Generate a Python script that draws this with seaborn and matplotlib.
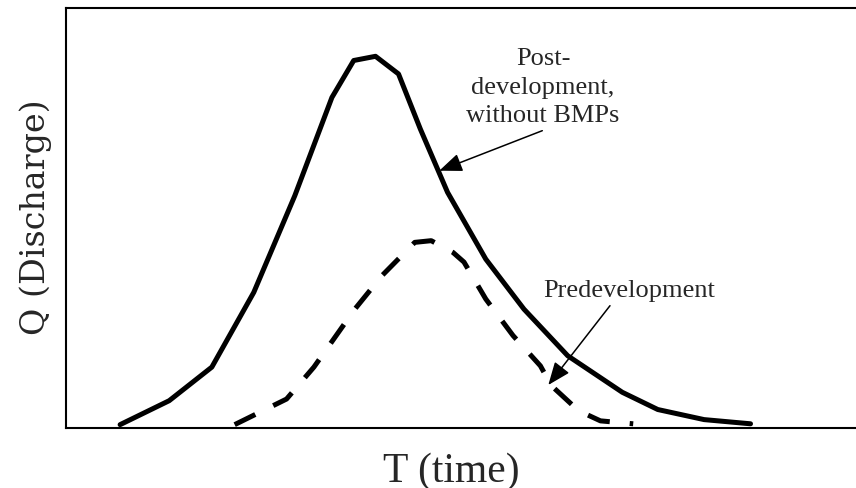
import matplotlib
matplotlib.use("Agg")
import matplotlib.pyplot as plt
import seaborn as sns
import pandas as pd

# Post-development hydrograph (without BMPs)
post_t = [6.85, 13.06, 18.46, 23.77, 28.96, 33.66, 36.42, 39.18, 42.09, 44.85,
          48.30, 53.14, 57.97, 63.51, 70.42, 74.91, 80.77, 86.65]
post_q = [0.8, 6.5, 14.5, 32.3, 55.3, 78.7, 87.5, 88.5, 84.3, 71.2,
          56.1, 40.2, 28.3, 17.2, 8.5, 4.4, 2.0, 1.0]

# Predevelopment hydrograph
pre_t = [21.35, 27.92, 31.38, 36.56, 40.01, 44.15, 46.23, 48.99, 50.38, 53.14,
         56.59, 60.05, 61.43, 64.89, 67.65, 71.80]
pre_q = [0.8, 6.9, 14.5, 28.3, 36.3, 44.2, 44.6, 41.8, 39.5, 30.7,
         22.0, 14.8, 10.1, 4.1, 1.7, 1.0]

post_label = "Post-\ndevelopment,\nwithout BMPs"
pre_label = "Predevelopment"
x_label = "T (time)"
y_label = "Q (Discharge)"

post_df = pd.DataFrame({"t": post_t, "q": post_q})
pre_df = pd.DataFrame({"t": pre_t, "q": pre_q})

sns.set_style("white")
plt.rcParams["font.family"] = ["Liberation Serif", "DejaVu Serif"]

W, H = 856, 489
fig = plt.figure(figsize=(W / 100, H / 100), dpi=100)
ax = fig.add_axes([66 / W, (H - 429) / H, 790 / W, 420 / H])

sns.lineplot(data=post_df, x="t", y="q", ax=ax, color="black", linewidth=3.6,
             estimator=None, sort=False)
sns.lineplot(data=pre_df, x="t", y="q", ax=ax, color="black", linewidth=3.6,
             estimator=None, sort=False, linestyle=(0, (4.6, 4.0)))

ax.set_xlim(0, 100)
ax.set_ylim(0, 100)
ax.set_xticks([])
ax.set_yticks([])
ax.set_xlabel("")
ax.set_ylabel("")
for side in ["left", "top", "bottom"]:
    ax.spines[side].set_visible(True)
    ax.spines[side].set_color("black")
    ax.spines[side].set_linewidth(1.5)
ax.spines["right"].set_visible(False)

# annotations
ax.text(60.38, 73.17, post_label, ha="center", va="baseline",
        multialignment="center", fontsize=19, linespacing=1.36,
        family="Liberation Serif")
ax.text(71.27, 31.5, pre_label, ha="center", va="baseline", fontsize=19,
        family="Liberation Serif")

arrow = dict(arrowstyle="-|>,head_length=1.0,head_width=0.4", color="black",
             lw=1.1, mutation_scale=14, shrinkA=0, shrinkB=0)
ax.annotate("", xy=(47.25, 61.26), xytext=(60.29, 70.79), arrowprops=arrow)
ax.annotate("", xy=(61.05, 10.24), xytext=(68.86, 29.12), arrowprops=arrow)

# axis labels
fig.text(451 / W, 1 - 481.7 / H, x_label, ha="center", va="baseline",
         fontsize=30, family="Liberation Serif")
fig.text(45 / W, 1 - 217.5 / H, y_label, ha="center", va="baseline",
         rotation=90, rotation_mode="anchor", fontsize=24,
         family="DejaVu Serif")

fig.savefig("out.png", dpi=100)
